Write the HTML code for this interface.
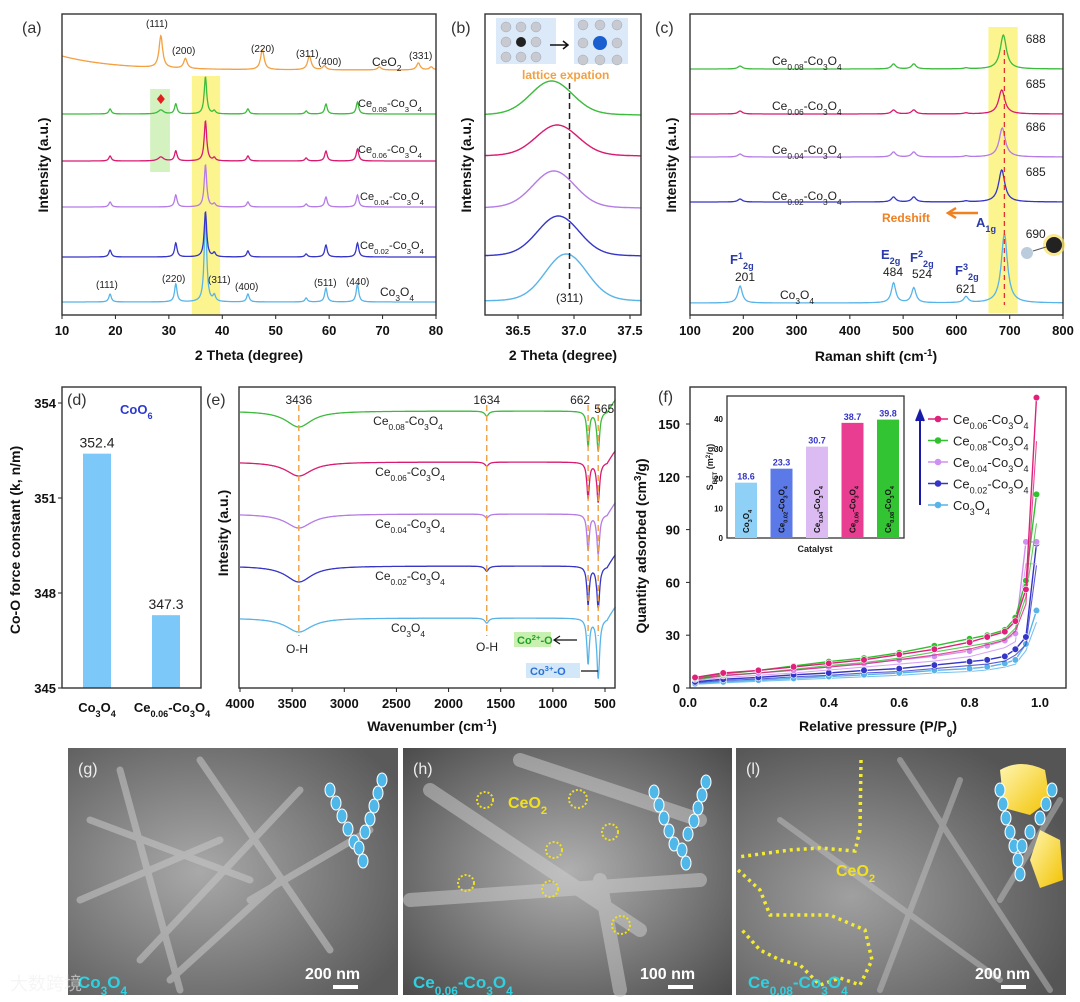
<!DOCTYPE html>
<html><head><meta charset="utf-8">
<style>
html,body{margin:0;padding:0;background:#fff;}
svg{display:block;font-family:"Liberation Sans",Arial,sans-serif;}
.tk{font-size:13px;font-weight:bold;fill:#111;}
.tt{font-size:14px;font-weight:bold;fill:#111;}
.pl{font-size:16px;fill:#333;}
.sl{font-size:12px;fill:#222;}
</style></head>
<body>
<svg id="fig" width="1080" height="1002" viewBox="0 0 1080 1002">
<defs>
<radialGradient id="semg" cx="40%" cy="50%" r="70%"><stop offset="0" stop-color="#a9a9a9"/><stop offset="1" stop-color="#5a5a5a"/></radialGradient>
<radialGradient id="semh" cx="50%" cy="50%" r="70%"><stop offset="0" stop-color="#b0b0b0"/><stop offset="1" stop-color="#4c4c4c"/></radialGradient>
<radialGradient id="semi" cx="35%" cy="60%" r="70%"><stop offset="0" stop-color="#a0a0a0"/><stop offset="1" stop-color="#555"/></radialGradient>
<linearGradient id="gold" x1="0" y1="0" x2="1" y2="1"><stop offset="0" stop-color="#fff6b0"/><stop offset="1" stop-color="#f2c200"/></linearGradient>
</defs>
<g id="marks"></g>
<g id="labels"></g>
</svg>
<script>
// ---------- DATA ----------
// (a) XRD
const xrdCoPos = [19, 31.3, 36.85, 38.5, 44.8, 55.7, 59.4, 65.3];
const xrdCo3O4 = [8, 18, 87, 6, 8, 4, 14, 18];
const xrdCe002 = [7, 14, 45, 4, 6, 3, 12, 14];
const xrdCe004 = [5, 12, 42, 3, 5, 3, 10, 12];
const xrdCe006 = [5, 10, 40, 3, 5, 3, 10, 12];
const xrdCe008 = [5, 10, 37, 3, 5, 3, 10, 12];
const xrdCeExtra = [0, 0, 0, 4, 4];
const xrdCeO2Pos = [28.5, 33.1, 47.5, 56.3, 59.1, 69.4, 76.7, 79.1];
const xrdCeO2 = [32, 10, 20, 14, 4, 3, 7, 3];
const xrdBase = [302, 257, 207, 161, 114, 62];
const xTicksA = [10, 20, 30, 40, 50, 60, 70, 80];
// (b) zoomed (311)
const bCenters = [36.93, 36.86, 36.82, 36.85, 36.8];
const bHeights = [45, 38, 35, 29, 32];
const bBase = [302, 257, 209, 157, 116];
const xTicksB = [36.5, 37.0, 37.5];
// (c) Raman
const ramanPos = [194, 482, 520, 618, 688];
const ramanCo3O4 = [17, 20, 15, 6, 69];
const ramanCe002 = [3, 5, 5, 1, 32];
const ramanCe004 = [3, 5, 5, 1, 29];
const ramanCe006 = [3, 4, 4, 1, 24];
const ramanCe008 = [3, 5, 5, 1, 34];
const ramanA1g = [690, 685, 686, 685, 688];
const ramanBase = [303, 202, 157, 114, 69];
const xTicksC = [100, 200, 300, 400, 500, 600, 700, 800];
// (d) force constant
const dCats = ["Co3O4", "Ce0.06-Co3O4"];
const dVals = [352.4, 347.3];
const yTicksD = [345, 348, 351, 354];
// (e) FTIR
const irPos = [3436, 1634, 662, 565];
const irCo3O4 = [14, 5, 45, 60];
const irCe002 = [16, 5, 38, 42];
const irCe004 = [14, 4, 36, 40];
const irCe006 = [14, 4, 36, 40];
const irCe008 = [16, 5, 35, 40];
const irBase = [618, 566, 514, 462, 411];
const xTicksE = [4000, 3500, 3000, 2500, 2000, 1500, 1000, 500];
// (f) isotherms
const pRel = [0.02, 0.1, 0.2, 0.3, 0.4, 0.5, 0.6, 0.7, 0.8, 0.85, 0.9, 0.93, 0.96, 0.99];
const isoCe006 = [6, 8.5, 10, 12, 14, 16, 19, 22, 26, 29, 32, 38, 56, 165];
const isoCe008 = [5.5, 8, 10, 12.5, 15, 17, 20, 24, 28, 30, 33, 40, 61, 110];
const isoCe004 = [5, 7, 8.5, 10, 12, 14, 16, 18, 21, 24, 27, 31, 83, 83];
const isoCe002 = [3.5, 5, 6, 7.5, 8.5, 10, 11, 13, 15, 16, 18, 22, 29, 82];
const isoCo3O4 = [2.5, 3.5, 4.5, 5.5, 6.5, 7.5, 8.5, 10, 11, 12, 14, 16, 25, 44];
const xTicksF = [0, 0.2, 0.4, 0.6, 0.8, 1.0];
const yTicksF = [0, 30, 60, 90, 120, 150];
const betCats = ["Co3O4", "Ce0.02-Co3O4", "Ce0.04-Co3O4", "Ce0.06-Co3O4", "Ce0.08-Co3O4"];
const betVals = [18.6, 23.3, 30.7, 38.7, 39.8];
const yTicksBet = [0, 10, 20, 30, 40];

// ---------- helpers ----------
const NS = "http://www.w3.org/2000/svg";
const marks = document.getElementById("marks");
const labels = document.getElementById("labels");
function mk(tag, attrs, parent) {
  const e = document.createElementNS(NS, tag);
  for (const k in attrs) e.setAttribute(k, attrs[k]);
  (parent || marks).appendChild(e);
  return e;
}
function sub(s){return '<tspan baseline-shift="sub" font-size="70%">'+s+'</tspan>';}
function sup(s){return '<tspan baseline-shift="super" font-size="70%">'+s+'</tspan>';}
function ceName(x){return x==="" ? 'Co'+sub('3')+'O'+sub('4') : 'Ce'+sub(x)+'-Co'+sub('3')+'O'+sub('4');}
function txt(x, y, html, cls, anchor, extra) {
  const e = mk("text", Object.assign({x: x, y: y, class: cls, "text-anchor": anchor || "start"}, extra || {}), labels);
  if (extra && extra["font-size"]) e.style.fontSize = extra["font-size"] + "px";
  if (extra && extra.fill) e.style.fill = extra.fill;
  e.innerHTML = html;
  return e;
}
const COL = {o:"#f4a040", g:"#3dbb3d", p:"#d81b70", v:"#b57be6", b:"#3535c8", l:"#58b4e8"};
function lor(x, c, w){const d=(x-c)/w;return 1/(1+d*d);}

// scales
const xa = v => 62 + (v - 10) * 374 / 70;
const xb = v => 518 + (v - 36.5) * 112;
const xc = v => 690 + (v - 100) * 373 / 700;
const yd = v => 688 - (v - 345) * 285 / 9;
const xe = v => 240 + (4000 - v) * 365 / 3500;
const xf = v => 688 + v * 352;
const yf = v => 688 - v * 264 / 150;
const yi = v => 538 - v * 119 / 40;

// ---------- highlights ----------
let r;
r = mk("rect", {x: xa(34.3), y: 76, width: xa(39.6) - xa(34.3), height: 239, fill: "#fbf27a", opacity: 0.85});


r = mk("rect", {x: xa(26.5), y: 89, width: xa(30.2) - xa(26.5), height: 83, fill: "#cdeeb5", opacity: 0.85});


r = mk("rect", {x: xc(660), y: 27, width: xc(715) - xc(660), height: 286, fill: "#fbf27a", opacity: 0.85});



// ---------- (a) ----------
const aSeries = [[xrdCo3O4, COL.l, "Co3O4"], [xrdCe002, COL.b, "0.02"], [xrdCe004, COL.v, "0.04"], [xrdCe006, COL.p, "0.06"], [xrdCe008, COL.g, "0.08"]];
aSeries.forEach((s, i) => {
  let d = "";
  for (let x = 10; x <= 80.001; x += 0.07) {
    let y = 0;
    xrdCoPos.forEach((c, k) => { y += s[0][k] * lor(x, c, 0.28); });
    if (i >= 3) y += xrdCeExtra[i] * lor(x, 28.5, 0.6);
    d += (d ? "L" : "M") + xa(x).toFixed(1) + "," + (xrdBase[i] - y).toFixed(1);
  }
  const p = mk("path", {d: d, fill: "none", stroke: s[1], "stroke-width": 1.3});
  
  
});
{
  let d = "";
  for (let x = 10; x <= 80.001; x += 0.07) {
    let y = 14 * Math.exp(-(x - 10) / 10);
    xrdCeO2Pos.forEach((c, k) => { y += xrdCeO2[k] * lor(x, c, 0.4); });
    d += (d ? "L" : "M") + xa(x).toFixed(1) + "," + (xrdBase[5] + 8 - y).toFixed(1);
  }
  const p = mk("path", {d: d, fill: "none", stroke: COL.o, "stroke-width": 1.3});
  
  
}
const dia = mk("path", {d: "M" + xa(28.5) + ",94 l4,5 l-4,5 l-4,-5z", fill: "#e02020"});



// ---------- (b) ----------
const bCols = [COL.l, COL.b, COL.v, COL.p, COL.g];
bCenters.forEach((c, i) => {
  let d = "";
  for (let x = 36.2; x <= 37.6; x += 0.005) {
    const y = bHeights[i] * Math.exp(-Math.pow((x - c) / 0.26, 2)) + 3 * lor(x, c, 0.6);
    d += (d ? "L" : "M") + xb(x).toFixed(1) + "," + (bBase[i] - y).toFixed(1);
  }
  const p = mk("path", {d: d, fill: "none", stroke: bCols[i], "stroke-width": 1.4});
  
  
});
const bd = mk("line", {x1: xb(36.96), y1: 83, x2: xb(36.96), y2: 295, stroke: "#222", "stroke-width": 1.5, "stroke-dasharray": "6,4"});



// ---------- (c) ----------
const cSeries = [[ramanCo3O4, COL.l], [ramanCe002, COL.b], [ramanCe004, COL.v], [ramanCe006, COL.p], [ramanCe008, COL.g]];
cSeries.forEach((s, i) => {
  let d = "";
  for (let x = 100; x <= 800; x += 1) {
    let y = 0;
    ramanPos.forEach((c, k) => {
      const cc = k === 4 ? ramanA1g[i] : c;
      y += s[0][k] * lor(x, cc, k === 4 ? 7 : 5);
    });
    d += (d ? "L" : "M") + xc(x).toFixed(1) + "," + (ramanBase[i] - y).toFixed(1);
  }
  const p = mk("path", {d: d, fill: "none", stroke: s[1], "stroke-width": 1.3});
  
  
  const t = txt(xc(730), ramanBase[i] - (i === 0 ? 75 : 36) + 10, String(ramanA1g[i]), "sl", "start");
  
  
});
const cd = mk("line", {x1: xc(690), y1: 50, x2: xc(690), y2: 305, stroke: "#e03030", "stroke-width": 1.3, "stroke-dasharray": "5,4"});



// ---------- (d) ----------
dVals.forEach((v, i) => {
  const cx = [97, 166][i];
  const b = mk("rect", {x: cx - 14, y: yd(v), width: 28, height: 688 - yd(v), fill: "#7cc8f8"});
  
  
  const t = txt(cx, yd(v) - 6, v.toFixed(1), "sl", "middle", {"font-size": "14"});
  
  
  const c = txt(cx + (i ? 6 : 0), 712, i ? ceName("0.06") : ceName(""), "tk", "middle");
  
  
});
yTicksD.forEach(v => {
  const t = txt(56, yd(v) + 5, String(v), "tk", "end");
  
  
  const l = mk("line", {x1: 62, y1: yd(v), x2: 58, y2: yd(v), stroke: "#222"});
  
  
});

// ---------- (e) ----------
const eSeries = [[irCo3O4, COL.l], [irCe002, COL.b], [irCe004, COL.v], [irCe006, COL.p], [irCe008, COL.g]];
const eWid = [150, 22, 14, 16];
eSeries.forEach((s, i) => {
  let d = "";
  for (let x = 4000; x >= 400; x -= 4) {
    let y = 0;
    irPos.forEach((c, k) => { y += s[0][k] * lor(x, c, eWid[k]); });
    if (x < 480) y -= (480 - x) * 0.15;
    d += (d ? "L" : "M") + xe(x).toFixed(1) + "," + (irBase[i] + y).toFixed(1);
  }
  const p = mk("path", {d: d, fill: "none", stroke: s[1], "stroke-width": 1.3});
  
  
});
irPos.forEach(c => {
  const l = mk("line", {x1: xe(c), y1: 405, x2: xe(c), y2: 636, stroke: "#f0a040", "stroke-width": 1.4, "stroke-dasharray": "6,4"});
  
  
  const t = txt(xe(c) + (c === 565 ? 6 : c === 662 ? -8 : 0), c === 565 ? 413 : 404, String(c), "sl", "middle");
  
  
});

// ---------- (f) isotherms ----------
const fSeries = [[isoCo3O4, COL.l, ""], [isoCe002, COL.b, "0.02"], [isoCe004, "#d090f0", "0.04"], [isoCe008, "#30c030", "0.08"], [isoCe006, "#e0207a", "0.06"]];
fSeries.forEach((s, i) => {
  const pts = pRel.map((p, k) => xf(p).toFixed(1) + "," + yf(s[0][k]).toFixed(1));
  const pl = mk("polyline", {points: pts.join(" "), fill: "none", stroke: s[1], "stroke-width": 1.4});
  
  
  const des = pRel.map((p, k) => xf(p).toFixed(1) + "," + yf(s[0][k] * 0.85).toFixed(1));
  const pl2 = mk("polyline", {points: des.join(" "), fill: "none", stroke: s[1], "stroke-width": 1.1, opacity: 0.8});
  
  
  pRel.forEach((p, k) => {
    const c = mk("circle", {cx: xf(p), cy: yf(s[0][k]), r: 3.3, fill: s[1], stroke: "#fff", "stroke-width": 0.6});
    
    
  });
});
xTicksF.forEach(v => {
  const t = txt(xf(v), 707, v.toFixed(1), "tk", "middle");
  
  
});
yTicksF.forEach(v => {
  const t = txt(680, yf(v) + 5, String(v), "tk", "end");
  
  
  const l = mk("line", {x1: 690, y1: yf(v), x2: 686, y2: yf(v), stroke: "#222"});
  
  
});
// inset
const ib = mk("rect", {x: 727, y: 396, width: 177, height: 142, fill: "#fff", stroke: "#333", "stroke-width": 1.3});


const betCols = ["#8fd0f6", "#5b7ae8", "#dcbaf2", "#e83d90", "#32c432"];
betVals.forEach((v, i) => {
  const cx = 746 + i * 35.5;
  const b = mk("rect", {x: cx - 11, y: yi(v), width: 22, height: 538 - yi(v), fill: betCols[i]});
  
  
  const t = txt(cx, yi(v) - 3, v.toFixed(1), "tk", "middle", {"font-size": "9", fill: "#3535c8"});
  
  
  const nm = betCats[i].indexOf("Ce") === 0 ? ceName(betCats[i].slice(2, 6)) : ceName("");
  const n = txt(cx + 3, 533, nm, "tk", "start", {"font-size": "8", transform: "rotate(-90 " + (cx + 3) + " 533)"});
  
  
});
yTicksBet.forEach(v => {
  const t = txt(723, yi(v) + 3, String(v), "tk", "end", {"font-size": "8"});
  
  
});
// legend
const legItems = [["0.06", "#e0207a"], ["0.08", "#30c030"], ["0.04", "#d090f0"], ["0.02", COL.b], ["", COL.l]];
legItems.forEach((it, i) => {
  const y = 419 + i * 21.5;
  const l = mk("line", {x1: 928, y1: y, x2: 948, y2: y, stroke: it[1], "stroke-width": 1.5});
  
  
  const c = mk("circle", {cx: 938, cy: y, r: 3.3, fill: it[1]});
  
  
  const t = txt(953, y + 5, ceName(it[0]), "sl", "start", {"font-size": "13"});
  
  
});

// ---------- axes frames & ticks ----------
function frame(x0, y0, x1, y1, name) {
  const f = mk("rect", {x: x0, y: y0, width: x1 - x0, height: y1 - y0, fill: "none", stroke: "#333", "stroke-width": 1.4}, labels);
  
  
}
frame(62, 14, 436, 315, "panel-a-frame");
frame(485, 14, 641, 315, "panel-b-frame");
frame(690, 14, 1063, 315, "panel-c-frame");
frame(62, 387, 201, 688, "panel-d-frame");
frame(239, 387, 615, 688, "panel-e-frame");
frame(690, 387, 1066, 688, "panel-f-frame");
function xticks(arr, sc, y, name, fmt) {
  arr.forEach(v => {
    const l = mk("line", {x1: sc(v), y1: y, x2: sc(v), y2: y + 4, stroke: "#222"}, labels);
    
    
    const t = txt(sc(v), y + 20, fmt ? fmt(v) : String(v), "tk", "middle");
    
    
  });
}
xticks(xTicksA, xa, 315, "a-x");
xticks(xTicksB, xb, 315, "b-x", v => v.toFixed(1));
xticks(xTicksC, xc, 315, "c-x");
xticks(xTicksE, xe, 688, "e-x");
</script>

<!-- static labels -->
<svg width="1080" height="1002" viewBox="0 0 1080 1002" style="position:absolute;left:0;top:0;font-family:'Liberation Sans',Arial,sans-serif;">
<style>.tk{font-size:13px;font-weight:bold;fill:#111}.tt{font-size:14px;font-weight:bold;fill:#111}.pl{font-size:16px;fill:#333}.sl{font-size:12px;fill:#222}.s{font-size:70%}</style>
<text class="pl" x="22" y="33">(a)</text>
<text class="pl" x="451" y="33">(b)</text>
<text class="pl" x="655" y="33">(c)</text>
<text class="pl" x="67" y="405">(d)</text>
<text class="pl" x="206" y="405">(e)</text>
<text class="pl" x="658" y="402">(f)</text>

<text class="tt" transform="rotate(-90 48 165)" x="48" y="165" text-anchor="middle">Intensity (a.u.)</text>
<text class="tt" x="249" y="360" text-anchor="middle">2 Theta (degree)</text>
<text class="tt" transform="rotate(-90 471 165)" x="471" y="165" text-anchor="middle">Intensity (a.u.)</text>
<text class="tt" x="563" y="360" text-anchor="middle">2 Theta (degree)</text>
<text class="tt" transform="rotate(-90 676 165)" x="676" y="165" text-anchor="middle">Intensity (a.u.)</text>
<text class="tt" x="876" y="361" text-anchor="middle">Raman shift (cm<tspan baseline-shift="super" class="s">-1</tspan>)</text>
<text class="tt" transform="rotate(-90 20 540)" x="20" y="540" text-anchor="middle">Co-O force constant (k, n/m)</text>
<text class="tt" transform="rotate(-90 228 533)" x="228" y="533" text-anchor="middle">Intesity (a.u.)</text>
<text class="tt" x="432" y="731" text-anchor="middle">Wavenumber (cm<tspan baseline-shift="super" class="s">-1</tspan>)</text>
<text class="tt" transform="rotate(-90 646 546)" x="646" y="546" text-anchor="middle">Quantity adsorbed (cm<tspan baseline-shift="super" class="s">3</tspan>/g)</text>
<text class="tt" x="878" y="731" text-anchor="middle">Relative pressure (P/P<tspan baseline-shift="sub" class="s">0</tspan>)</text>

<!-- (a) annotations -->
<g font-size="10" fill="#222">
<text x="146" y="27">(111)</text><text x="172" y="54">(200)</text><text x="251" y="52">(220)</text><text x="296" y="57">(311)</text><text x="318" y="65">(400)</text><text x="409" y="59">(331)</text>
<text x="96" y="288">(111)</text><text x="162" y="282">(220)</text><text x="208" y="283">(311)</text><text x="235" y="290">(400)</text><text x="314" y="286">(511)</text><text x="346" y="285">(440)</text>
</g>
<text class="sl" x="372" y="66">CeO<tspan baseline-shift="sub" class="s">2</tspan></text>
<text class="sl" x="380" y="296">Co<tspan baseline-shift="sub" class="s">3</tspan>O<tspan baseline-shift="sub" class="s">4</tspan></text>
<text class="sl" x="358" y="107" style="font-size:11px">Ce<tspan baseline-shift="sub" class="s">0.08</tspan>-Co<tspan baseline-shift="sub" class="s">3</tspan>O<tspan baseline-shift="sub" class="s">4</tspan></text>
<text class="sl" x="358" y="153" style="font-size:11px">Ce<tspan baseline-shift="sub" class="s">0.06</tspan>-Co<tspan baseline-shift="sub" class="s">3</tspan>O<tspan baseline-shift="sub" class="s">4</tspan></text>
<text class="sl" x="360" y="200" style="font-size:11px">Ce<tspan baseline-shift="sub" class="s">0.04</tspan>-Co<tspan baseline-shift="sub" class="s">3</tspan>O<tspan baseline-shift="sub" class="s">4</tspan></text>
<text class="sl" x="360" y="249" style="font-size:11px">Ce<tspan baseline-shift="sub" class="s">0.02</tspan>-Co<tspan baseline-shift="sub" class="s">3</tspan>O<tspan baseline-shift="sub" class="s">4</tspan></text>

<!-- (b) annotations -->
<g>
<rect x="496" y="18" width="60" height="46" fill="#dbe9f8"/><rect x="574" y="18" width="54" height="46" fill="#dbe9f8"/>
<g fill="#c9c9d0" stroke="#9ab" stroke-width="0.5">
<circle cx="506" cy="27" r="5"/><circle cx="521" cy="27" r="5"/><circle cx="536" cy="27" r="5"/><circle cx="506" cy="42" r="5"/><circle cx="536" cy="42" r="5"/><circle cx="506" cy="57" r="5"/><circle cx="521" cy="57" r="5"/><circle cx="536" cy="57" r="5"/>
<circle cx="583" cy="25" r="5"/><circle cx="600" cy="25" r="5"/><circle cx="617" cy="25" r="5"/><circle cx="583" cy="43" r="5"/><circle cx="617" cy="43" r="5"/><circle cx="583" cy="60" r="5"/><circle cx="600" cy="60" r="5"/><circle cx="617" cy="60" r="5"/></g>
<circle cx="521" cy="42" r="5" fill="#222"/><circle cx="600" cy="43" r="7" fill="#1a5fd0"/>
<path d="M550,45 H568 M563,41 L568,45 L563,49" stroke="#111" stroke-width="1.5" fill="none"/>
</g>
<text x="522" y="79" font-size="12" font-weight="bold" fill="#f4a040">lattice expation</text>
<text class="sl" x="556" y="302">(311)</text>

<!-- (c) annotations -->
<text class="sl" x="772" y="65">Ce<tspan baseline-shift="sub" class="s">0.08</tspan>-Co<tspan baseline-shift="sub" class="s">3</tspan>O<tspan baseline-shift="sub" class="s">4</tspan></text>
<text class="sl" x="772" y="110">Ce<tspan baseline-shift="sub" class="s">0.06</tspan>-Co<tspan baseline-shift="sub" class="s">3</tspan>O<tspan baseline-shift="sub" class="s">4</tspan></text>
<text class="sl" x="772" y="154">Ce<tspan baseline-shift="sub" class="s">0.04</tspan>-Co<tspan baseline-shift="sub" class="s">3</tspan>O<tspan baseline-shift="sub" class="s">4</tspan></text>
<text class="sl" x="772" y="200">Ce<tspan baseline-shift="sub" class="s">0.02</tspan>-Co<tspan baseline-shift="sub" class="s">3</tspan>O<tspan baseline-shift="sub" class="s">4</tspan></text>
<text class="sl" x="780" y="299">Co<tspan baseline-shift="sub" class="s">3</tspan>O<tspan baseline-shift="sub" class="s">4</tspan></text>
<text x="882" y="222" font-size="12" font-weight="bold" fill="#f08020">Redshift</text>
<path d="M978,213 H950 M956,208 L948,213 L956,218" stroke="#f08020" stroke-width="2.5" fill="none"/>
<g font-size="13" font-weight="bold" fill="#2a3aa8">
<text x="730" y="264">F<tspan baseline-shift="super" class="s">1</tspan><tspan baseline-shift="sub" class="s">2g</tspan></text>
<text x="881" y="259">E<tspan baseline-shift="sub" class="s">2g</tspan></text>
<text x="910" y="262">F<tspan baseline-shift="super" class="s">2</tspan><tspan baseline-shift="sub" class="s">2g</tspan></text>
<text x="955" y="275">F<tspan baseline-shift="super" class="s">3</tspan><tspan baseline-shift="sub" class="s">2g</tspan></text>
<text x="976" y="227">A<tspan baseline-shift="sub" class="s">1g</tspan></text>
</g>
<g>
<text x="735" y="281" class="sl">201</text><text x="883" y="276" class="sl">484</text><text x="912" y="278" class="sl">524</text><text x="956" y="293" class="sl">621</text>
</g>
<g><circle cx="1054" cy="245" r="11" fill="#f8e060" opacity="0.7"/><circle cx="1054" cy="245" r="8" fill="#222"/><circle cx="1027" cy="253" r="6" fill="#bcd" /><line x1="1033" y1="251" x2="1046" y2="247" stroke="#555"/></g>

<!-- (d) annotation -->
<text x="120" y="414" font-size="13" font-weight="bold" fill="#2a3ad0">CoO<tspan baseline-shift="sub" class="s">6</tspan></text>

<!-- (e) annotations -->
<text class="sl" x="408" y="425" text-anchor="middle">Ce<tspan baseline-shift="sub" class="s">0.08</tspan>-Co<tspan baseline-shift="sub" class="s">3</tspan>O<tspan baseline-shift="sub" class="s">4</tspan></text>
<text class="sl" x="410" y="476" text-anchor="middle">Ce<tspan baseline-shift="sub" class="s">0.06</tspan>-Co<tspan baseline-shift="sub" class="s">3</tspan>O<tspan baseline-shift="sub" class="s">4</tspan></text>
<text class="sl" x="410" y="528" text-anchor="middle">Ce<tspan baseline-shift="sub" class="s">0.04</tspan>-Co<tspan baseline-shift="sub" class="s">3</tspan>O<tspan baseline-shift="sub" class="s">4</tspan></text>
<text class="sl" x="410" y="580" text-anchor="middle">Ce<tspan baseline-shift="sub" class="s">0.02</tspan>-Co<tspan baseline-shift="sub" class="s">3</tspan>O<tspan baseline-shift="sub" class="s">4</tspan></text>
<text class="sl" x="408" y="632" text-anchor="middle">Co<tspan baseline-shift="sub" class="s">3</tspan>O<tspan baseline-shift="sub" class="s">4</tspan></text>
<text class="sl" x="297" y="653" text-anchor="middle">O-H</text>
<text class="sl" x="487" y="651" text-anchor="middle">O-H</text>
<rect x="514" y="632" width="37" height="15" fill="#c8f0b0"/>
<text x="517" y="644" font-size="11" font-weight="bold" fill="#20a020">Co<tspan baseline-shift="super" class="s">2+</tspan>-O</text>
<path d="M555,640 H578 M572,636 L578,640 L572,644" stroke="#111" stroke-width="1.2" fill="none" transform="rotate(180 566 640)"/>
<rect x="526" y="663" width="54" height="15" fill="#d2e8f8"/>
<text x="530" y="675" font-size="11" font-weight="bold" fill="#2a70d8">Co<tspan baseline-shift="super" class="s">3+</tspan>-O</text>
<path d="M581,671 H598" stroke="#111" stroke-width="1.2"/>

<!-- (f) annotations -->
<text x="815" y="552" font-size="9" font-weight="bold" fill="#222" text-anchor="middle">Catalyst</text>
<text x="713" y="467" font-size="9" font-weight="bold" fill="#222" transform="rotate(-90 713 467)" text-anchor="middle">S<tspan baseline-shift="sub" class="s">BET</tspan> (m<tspan baseline-shift="super" class="s">2</tspan>/g)</text>
<path d="M920,505 V414 M916,421 L920,411 L924,421" stroke="#1a1aa8" stroke-width="2" fill="#1a1aa8"/>

<!-- SEM images -->
<g>
<rect x="68" y="748" width="330" height="247" fill="url(#semg)"/>
<g stroke="#c8c8c8" stroke-width="7" stroke-linecap="round" opacity="0.55">
<line x1="90" y1="820" x2="250" y2="880"/><line x1="140" y1="960" x2="300" y2="790"/><line x1="200" y1="760" x2="330" y2="950"/><line x1="80" y1="900" x2="220" y2="840"/><line x1="250" y1="900" x2="370" y2="830"/><line x1="170" y1="980" x2="280" y2="880"/><line x1="120" y1="770" x2="180" y2="990"/></g>
<text x="78" y="774" font-size="16" fill="#eee">(g)</text>
<text x="78" y="988" font-size="17" font-weight="bold" fill="#30d0e0">Co<tspan baseline-shift="sub" class="s">3</tspan>O<tspan baseline-shift="sub" class="s">4</tspan></text>
<text x="305" y="979" font-size="16" font-weight="bold" fill="#fff">200 nm</text><rect x="333" y="985" width="25" height="4" fill="#fff"/>
<g fill="#4fb8e8" stroke="#fff" stroke-width="1"><ellipse cx="330" cy="790" rx="5" ry="7"/><ellipse cx="336" cy="803" rx="5" ry="7"/><ellipse cx="342" cy="816" rx="5" ry="7"/><ellipse cx="348" cy="829" rx="5" ry="7"/><ellipse cx="354" cy="842" rx="5" ry="7"/><ellipse cx="382" cy="780" rx="5" ry="7"/><ellipse cx="378" cy="793" rx="5" ry="7"/><ellipse cx="374" cy="806" rx="5" ry="7"/><ellipse cx="370" cy="819" rx="5" ry="7"/><ellipse cx="365" cy="832" rx="5" ry="7"/><ellipse cx="359" cy="848" rx="5" ry="7"/><ellipse cx="363" cy="861" rx="5" ry="7"/></g>
</g>
<g>
<rect x="403" y="748" width="329" height="247" fill="url(#semh)"/>
<g stroke="#d0d0d0" stroke-width="14" stroke-linecap="round" opacity="0.5">
<line x1="430" y1="790" x2="640" y2="930"/><line x1="410" y1="900" x2="700" y2="880"/><line x1="520" y1="760" x2="700" y2="820"/><line x1="600" y1="880" x2="620" y2="990"/></g>
<text x="413" y="774" font-size="16" fill="#eee">(h)</text>
<text x="508" y="808" font-size="16" font-weight="bold" fill="#f0e020">CeO<tspan baseline-shift="sub" class="s">2</tspan></text>
<g fill="none" stroke="#f0e020" stroke-width="2" stroke-dasharray="2,2"><circle cx="485" cy="800" r="8"/><circle cx="578" cy="799" r="9"/><circle cx="610" cy="832" r="8"/><circle cx="554" cy="850" r="8"/><circle cx="466" cy="883" r="8"/><circle cx="550" cy="889" r="8"/><circle cx="621" cy="925" r="9"/></g>
<text x="413" y="988" font-size="17" font-weight="bold" fill="#30d0e0">Ce<tspan baseline-shift="sub" class="s">0.06</tspan>-Co<tspan baseline-shift="sub" class="s">3</tspan>O<tspan baseline-shift="sub" class="s">4</tspan></text>
<text x="640" y="979" font-size="16" font-weight="bold" fill="#fff">100 nm</text><rect x="668" y="985" width="25" height="4" fill="#fff"/>
<g fill="#4fb8e8" stroke="#fff" stroke-width="1"><ellipse cx="654" cy="792" rx="5" ry="7"/><ellipse cx="659" cy="805" rx="5" ry="7"/><ellipse cx="664" cy="818" rx="5" ry="7"/><ellipse cx="669" cy="831" rx="5" ry="7"/><ellipse cx="674" cy="844" rx="5" ry="7"/><ellipse cx="706" cy="782" rx="5" ry="7"/><ellipse cx="702" cy="795" rx="5" ry="7"/><ellipse cx="698" cy="808" rx="5" ry="7"/><ellipse cx="694" cy="821" rx="5" ry="7"/><ellipse cx="688" cy="834" rx="5" ry="7"/><ellipse cx="682" cy="850" rx="5" ry="7"/><ellipse cx="686" cy="863" rx="5" ry="7"/></g>
</g>
<g>
<rect x="736" y="748" width="330" height="247" fill="url(#semi)"/>
<g stroke="#c0c0c0" stroke-width="6" stroke-linecap="round" opacity="0.5">
<line x1="780" y1="820" x2="1000" y2="980"/><line x1="900" y1="760" x2="1050" y2="990"/><line x1="960" y1="780" x2="880" y2="990"/><line x1="1000" y1="900" x2="1060" y2="800"/></g>
<path d="M861,760 L860,830 L855,851 L820,848 L790,850 L738,857 M738,870 L760,890 L770,915 L830,915 L865,930 L872,960 L860,985 L840,978 L820,985 L800,965 L780,960 L760,950 L742,930" fill="none" stroke="#f4ec30" stroke-width="3.5" stroke-dasharray="3,4"/>
<text x="836" y="876" font-size="16" font-weight="bold" fill="#f0e020">CeO<tspan baseline-shift="sub" class="s">2</tspan></text>
<text x="746" y="774" font-size="16" fill="#eee">(l)</text>
<text x="748" y="988" font-size="17" font-weight="bold" fill="#30d0e0">Ce<tspan baseline-shift="sub" class="s">0.08</tspan>-Co<tspan baseline-shift="sub" class="s">3</tspan>O<tspan baseline-shift="sub" class="s">4</tspan></text>
<text x="975" y="979" font-size="16" font-weight="bold" fill="#fff">200 nm</text><rect x="1001" y="985" width="25" height="4" fill="#fff"/>
<path d="M1000,770 Q1020,758 1045,770 L1050,800 L1030,815 L1004,808 Z" fill="url(#gold)"/>
<path d="M1040,830 L1060,840 L1063,880 L1040,888 L1030,860 Z" fill="url(#gold)"/>
<g fill="#4fb8e8" stroke="#fff" stroke-width="1"><ellipse cx="1000" cy="790" rx="5" ry="7"/><ellipse cx="1003" cy="804" rx="5" ry="7"/><ellipse cx="1006" cy="818" rx="5" ry="7"/><ellipse cx="1010" cy="832" rx="5" ry="7"/><ellipse cx="1014" cy="846" rx="5" ry="7"/><ellipse cx="1052" cy="790" rx="5" ry="7"/><ellipse cx="1046" cy="804" rx="5" ry="7"/><ellipse cx="1040" cy="818" rx="5" ry="7"/><ellipse cx="1030" cy="832" rx="5" ry="7"/><ellipse cx="1022" cy="846" rx="5" ry="7"/><ellipse cx="1018" cy="860" rx="5" ry="7"/><ellipse cx="1020" cy="874" rx="5" ry="7"/></g>
</g>
<text x="10" y="990" font-size="18" fill="#f0f0f0" opacity="0.6" style="font-family:'Liberation Sans','Noto Sans CJK SC',sans-serif">大数跨境</text>
</svg>
</body></html>
